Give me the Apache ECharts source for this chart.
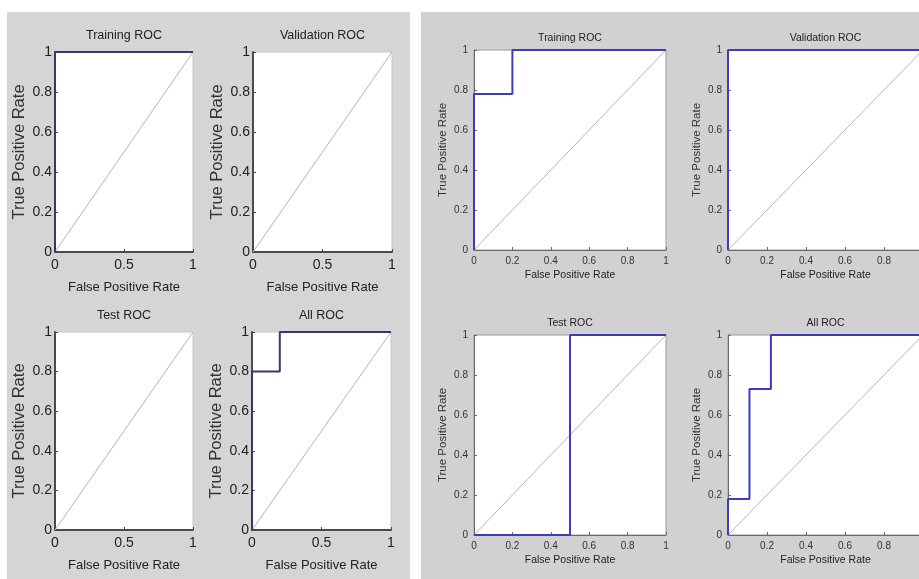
<!DOCTYPE html>
<html>
<head>
<meta charset="utf-8">
<script src="https://cdn.jsdelivr.net/npm/echarts@6/dist/echarts.min.js"></script>
<style>
html,body{margin:0;padding:0;background:#ffffff;}
#chart{width:919px;height:579px;}
</style>
</head>
<body>
<div id="chart"></div>
<script>
// ---------- data ----------
const panelTitles = ['Training ROC', 'Validation ROC', 'Test ROC', 'All ROC'];
const xAxisName = 'False Positive Rate';
const yAxisName = 'True Positive Rate';
const diagFPR = [0, 1];
const diagTPR = [0, 1];

// left figure ROC curves
const leftTrainFPR = [0, 0, 1];
const leftTrainTPR = [0, 1, 1];
const leftValFPR = [];
const leftValTPR = [];
const leftTestFPR = [];
const leftTestTPR = [];
const leftAllFPR = [0, 0, 0.2, 0.2, 1];
const leftAllTPR = [0, 0.8, 0.8, 1, 1];

// right figure ROC curves
const rightTrainFPR = [0, 0, 0.2, 0.2, 1];
const rightTrainTPR = [0, 0.78, 0.78, 1, 1];
const rightValFPR = [0, 0, 1];
const rightValTPR = [0, 1, 1];
const rightTestFPR = [0, 0.5, 0.5, 1];
const rightTestTPR = [0, 0, 1, 1];
const rightAllFPR = [0, 0, 0.11, 0.11, 0.22, 0.22, 1];
const rightAllTPR = [0, 0.18, 0.18, 0.73, 0.73, 1, 1];

const leftXTicks = [0, 0.5, 1];
const rightXTicks = [0, 0.2, 0.4, 0.6, 0.8, 1];
const yTicks = [0, 0.2, 0.4, 0.6, 0.8, 1];

// ---------- layout / style ----------
const zip = (a, b) => a.map((v, i) => [v, b[i]]);
const leftCurves = [[leftTrainFPR, leftTrainTPR], [leftValFPR, leftValTPR], [leftTestFPR, leftTestTPR], [leftAllFPR, leftAllTPR]];
const rightCurves = [[rightTrainFPR, rightTrainTPR], [rightValFPR, rightValTPR], [rightTestFPR, rightTestTPR], [rightAllFPR, rightAllTPR]];

const leftGrids = [
  {left: 55, top: 52, width: 138, height: 200},
  {left: 253, top: 52, width: 139, height: 200},
  {left: 55, top: 332, width: 138, height: 198},
  {left: 252, top: 332, width: 139, height: 198}
];
const rightGrids = [
  {left: 474, top: 50, width: 192, height: 200},
  {left: 728, top: 50, width: 195, height: 200},
  {left: 474, top: 335, width: 192, height: 200},
  {left: 728, top: 335, width: 195, height: 200}
];

const FONT = "'Liberation Sans', Arial, sans-serif";

const grid = [], xAxis = [], yAxis = [], series = [], title = [];

function addPanel(g, idx, curve, side) {
  const isLeft = side === 'left';
  const gi = grid.length;
  grid.push(Object.assign({show: true, backgroundColor: '#ffffff', borderColor: isLeft ? '#c8c8c8' : '#9a9a9a', borderWidth: 1,
    containLabel: false, outerBoundsMode: 'none'}, g));
  const xt = isLeft ? leftXTicks : rightXTicks;
  const axisColor = isLeft ? '#4a4a4a' : '#6a6a6a';
  const tickFont = isLeft ? 14 : 10;
  xAxis.push({
    type: 'value', gridIndex: gi, min: 0, max: 1, interval: xt[1] - xt[0],
    name: xAxisName, nameLocation: 'middle', nameGap: isLeft ? 29 : 20,
    nameTextStyle: {fontFamily: FONT, fontSize: isLeft ? 13 : 10.5, color: '#222'},
    axisLine: {show: true, lineStyle: {color: axisColor, width: isLeft ? 2 : 1}},
    axisTick: {show: true, inside: true, length: 3, lineStyle: {color: axisColor}},
    axisLabel: {margin: 6, fontFamily: FONT, fontSize: tickFont, color: isLeft ? '#222' : '#333',
      formatter: v => String(+v.toFixed(2))},
    splitLine: {show: false}
  });
  yAxis.push({
    type: 'value', gridIndex: gi, min: 0, max: 1, interval: yTicks[1] - yTicks[0],
    name: yAxisName, nameLocation: 'middle', nameGap: isLeft ? 27 : 25,
    nameTextStyle: {fontFamily: FONT, fontSize: isLeft ? 16.5 : 11.5, color: '#333'},
    axisLine: {show: true, lineStyle: {color: axisColor, width: isLeft ? 2 : 1}},
    axisTick: {show: true, inside: true, length: 3, lineStyle: {color: axisColor}},
    axisLabel: {margin: isLeft ? 3 : 6, fontFamily: FONT, fontSize: tickFont, color: isLeft ? '#222' : '#333',
      formatter: v => String(+v.toFixed(2))},
    splitLine: {show: false}
  });
  series.push({
    type: 'line', xAxisIndex: gi, yAxisIndex: gi, data: zip(diagFPR, diagTPR),
    symbol: 'none', clip: false, silent: true, animation: false,
    lineStyle: {color: '#b4b4b4', width: 1}
  });
  if (curve[0].length) {
    series.push({
      type: 'line', xAxisIndex: gi, yAxisIndex: gi, data: zip(curve[0], curve[1]),
      symbol: 'none', clip: false, silent: true, animation: false,
      lineStyle: {color: isLeft ? '#37376f' : '#3c3cbc', width: 2}
    });
  }
  const cx = g.left + g.width / 2;
  title.push({
    text: panelTitles[idx], left: cx, top: g.top - (isLeft ? 23 : 17), textAlign: 'center', padding: 0,
    textStyle: {fontFamily: FONT, fontSize: isLeft ? 12.5 : 10.5, fontWeight: 'normal', color: '#222'}
  });
}

leftGrids.forEach((g, i) => addPanel(g, i, leftCurves[i], 'left'));
rightGrids.forEach((g, i) => addPanel(g, i, rightCurves[i], 'right'));

const chart = echarts.init(document.getElementById('chart'), null, {renderer: 'canvas'});
chart.setOption({
  animation: false,
  backgroundColor: '#ffffff',
  graphic: [
    {type: 'rect', z: -10, silent: true, shape: {x: 7, y: 12, width: 403, height: 567}, style: {fill: '#d5d5d5'}},
    {type: 'rect', z: -10, silent: true, shape: {x: 421, y: 12, width: 498, height: 567}, style: {fill: '#d1d1d1'}}
  ],
  title, grid, xAxis, yAxis, series
});
</script>
</body>
</html>
